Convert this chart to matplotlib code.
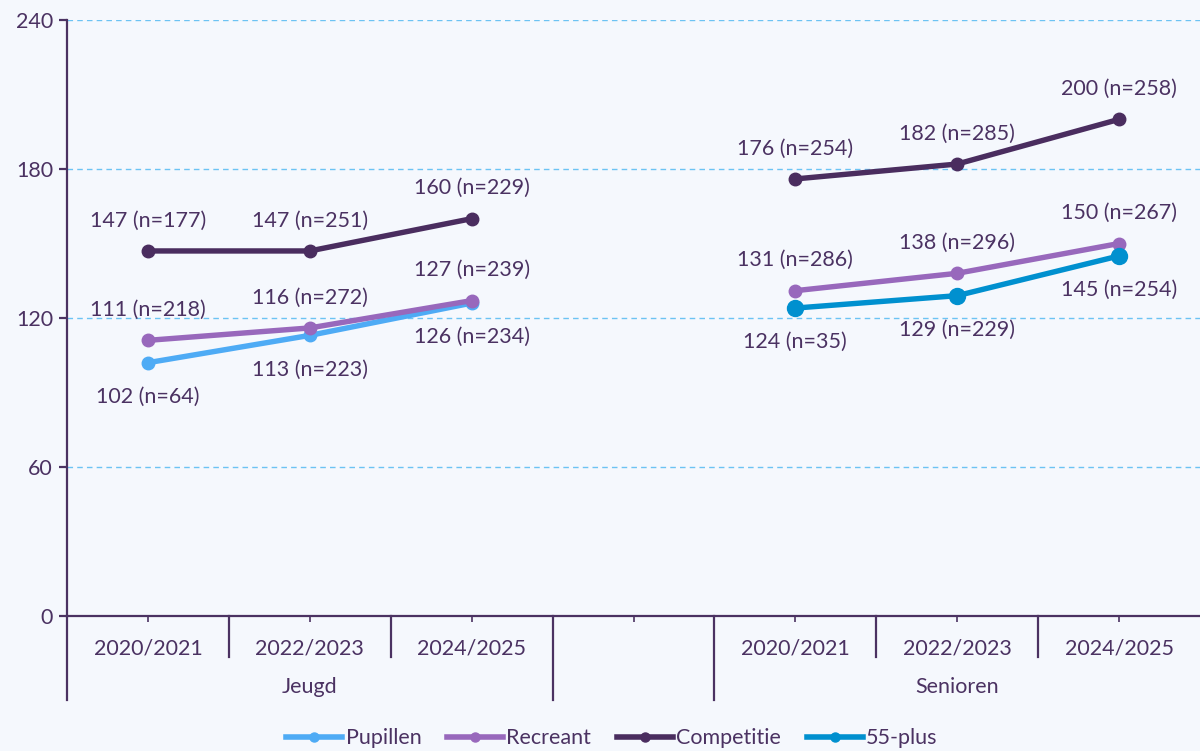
import matplotlib.pyplot as plt
import matplotlib.transforms as mtransforms
from matplotlib.lines import Line2D

plt.rcParams['font.family'] = ['Lato', 'DejaVu Sans']

seasons = ['2020/2021', '2022/2023', '2024/2025']
groups = ['Jeugd', 'Senioren']

# values per group (3 seasons each), with sample sizes
pupillen_jeugd = [102, 113, 126]
pupillen_jeugd_n = [64, 223, 234]

recreant_jeugd = [111, 116, 127]
recreant_jeugd_n = [218, 272, 239]
recreant_senioren = [131, 138, 150]
recreant_senioren_n = [286, 296, 267]

competitie_jeugd = [147, 147, 160]
competitie_jeugd_n = [177, 251, 229]
competitie_senioren = [176, 182, 200]
competitie_senioren_n = [254, 285, 258]

plus55_senioren = [124, 129, 145]
plus55_senioren_n = [35, 229, 254]

text_col = '#4b3262'
bg = '#f5f8fd'
axis_col = '#4b3262'
fs = 15.5

fig = plt.figure(figsize=(12, 7.51), dpi=100, facecolor=bg)
ax = fig.add_axes([67 / 1200, 1 - 616 / 751, 1 - 67 / 1200, (616 - 20) / 751])
ax.set_facecolor(bg)

# x slots: 0-2 Jeugd, 3 empty, 4-6 Senioren
xj = [0, 1, 2]
xs = [4, 5, 6]

series = [
    ('Pupillen', '#4eabf5', 9, [(xj, pupillen_jeugd, pupillen_jeugd_n)], 'below'),
    ('Recreant', '#9868bc', 9, [(xj, recreant_jeugd, recreant_jeugd_n),
                                (xs, recreant_senioren, recreant_senioren_n)], 'above'),
    ('Competitie', '#4a2d5f', 9, [(xj, competitie_jeugd, competitie_jeugd_n),
                                  (xs, competitie_senioren, competitie_senioren_n)], 'above'),
    ('55-plus', '#0090cf', 11.5, [(xs, plus55_senioren, plus55_senioren_n)], 'below'),
]

handles = []
for name, col, ms, parts, pos in series:
    for x, y, n in parts:
        ax.plot(x, y, color=col, lw=3.9, marker='o', ms=ms, zorder=3,
                solid_capstyle='round')
        dy = 22 if pos == 'above' else -24.5
        for xi, yi, ni in zip(x, y, n):
            ax.annotate(f'{yi} (n={ni})', (xi, yi), xytext=(0, dy),
                        textcoords='offset points', ha='center', va='center',
                        fontsize=fs, color=text_col, zorder=4)
    handles.append(Line2D([], [], color=col, lw=4, marker='o', ms=6.5))

ax.set_xlim(-0.5, 6.5)
ax.set_ylim(0, 240)
ax.set_yticks([0, 60, 120, 180, 240])
ax.grid(axis='y', color='#6cc3f3', ls=(0, (4, 3)), lw=1)
ax.set_axisbelow(True)

ax.set_xticks(range(7))
ax.set_xticklabels(seasons + [''] + seasons)

for s in ['top', 'right']:
    ax.spines[s].set_visible(False)
for s in ['left', 'bottom']:
    ax.spines[s].set_color(axis_col)
    ax.spines[s].set_linewidth(1.6)
ax.spines['bottom'].set_zorder(5)

ax.tick_params(axis='y', length=6, width=1.6, color=axis_col, labelcolor=text_col,
               labelsize=fs, pad=4)
ax.tick_params(axis='x', length=4, width=1.2, color=axis_col, labelcolor=text_col,
               labelsize=fs, pad=12)

# category separators below the axis
trans = mtransforms.blended_transform_factory(ax.transData, ax.transAxes)
ax_h = 596
for b in [0.5, 1.5, 4.5, 5.5]:
    ax.plot([b, b], [0, -41 / ax_h], transform=trans, color=axis_col, lw=1.6,
            clip_on=False)
for b in [-0.5, 2.5, 3.5]:
    ax.plot([b, b], [0, -84 / ax_h], transform=trans, color=axis_col, lw=1.6,
            clip_on=False)

for gx, g in zip([1, 5], groups):
    ax.text(gx, -71 / ax_h, g, transform=trans, ha='center', va='center',
            fontsize=fs, color=text_col)

fig.legend(handles=handles, labels=[s[0] for s in series],
           loc='center', bbox_to_anchor=(0.51, 0.017), ncol=4, frameon=False,
           handlelength=2.6, handletextpad=0.15, columnspacing=1.2,
           fontsize=fs, labelcolor=text_col)

fig.savefig('out.png', dpi=100, facecolor=bg)
